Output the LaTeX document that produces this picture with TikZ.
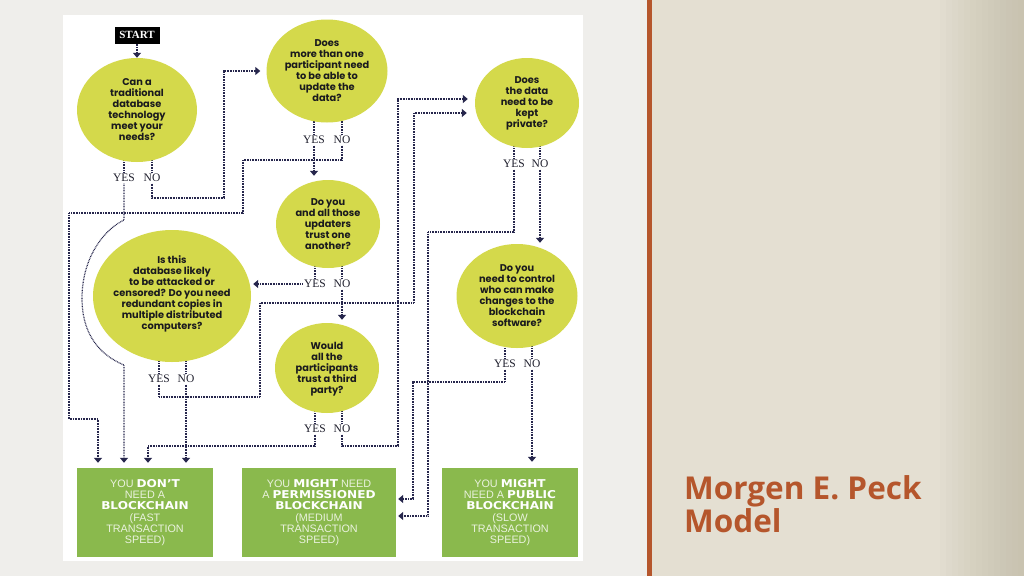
\documentclass[tikz,border=0pt]{standalone}
\usepackage{fontspec}
\setmainfont{Liberation Serif}
\newfontfamily\qfont{Poppins}
\newfontfamily\boldbox{DejaVu Sans}[FakeStretch=1.12]
\newfontfamily\lightbox{Liberation Sans}
\newfontfamily\titlefont{Open Sans}
\usetikzlibrary{shapes.geometric,arrows.meta}
\pgfdeclarelayer{bg}
\pgfdeclarelayer{wires}
\pgfsetlayers{bg,wires,main}
\definecolor{pagegrey}{HTML}{EFEEEB}
\definecolor{rust}{HTML}{B5562C}
\definecolor{beige}{HTML}{E4DFD2}
\definecolor{beigedk}{HTML}{B9B29A}
\definecolor{qyellow}{HTML}{D4D94B}
\definecolor{qtxt}{HTML}{1A1A1E}
\definecolor{rgreen}{HTML}{8AB94D}
\definecolor{lighttxt}{HTML}{EAF2DE}
\definecolor{navy}{HTML}{26264C}
\definecolor{labtxt}{HTML}{1E1E2C}
\newcommand\rbold[1]{{\boldbox\bfseries\fontsize{10.8}{11}\selectfont\color{white}#1}}
\tikzset{
  qshape/.style={ellipse, fill=qyellow, inner sep=0pt},
  qtext/.style={align=center, font=\qfont\bfseries\fontsize{9.8}{11}\selectfont, text=qtxt, inner sep=0pt},
  ans/.style={font=\fontsize{11.5}{11.5}\selectfont, text=labtxt, inner sep=1.5pt},
  res/.style={fill=rgreen, inner sep=0pt, align=center, text=lighttxt, font=\lightbox\fontsize{10.8}{11.2}\selectfont},
  dl/.style={draw=navy, line width=1.2pt, dash pattern=on 0.8pt off 0.8pt},
  arr/.style={dl, -{Triangle[width=8pt,length=5pt]}},
  startbox/.style={fill=black, text=white, font=\bfseries\fontsize{11}{11}\selectfont, minimum width=45pt, minimum height=17pt, inner sep=0pt}
}
\begin{document}
\begin{tikzpicture}[x=1pt,y=-1pt]
\useasboundingbox (0,0) rectangle (1024,576);
\begin{pgfonlayer}{bg}
\fill[pagegrey] (0,0) rectangle (648,576);
\fill[white] (63,15) rectangle (583,561);
\fill[beige] (651,0) rectangle (1024,576);
\foreach \i in {1,...,14}
  \fill[beigedk, opacity=0.05] ({1024-6*\i},0) rectangle (1024,576);
\fill[rust] (647,0) rectangle (651.5,576);
\end{pgfonlayer}

% title
\node[anchor=base west, align=left, inner sep=0pt, text=rust,
      font=\titlefont\bfseries\fontsize{31.5}{31}\selectfont] (title) at (684,532) {Morgen E. Peck\\Model};

% start
\node[startbox] (start) at (137,35) {START};

% questions
\node[qshape, minimum width=120pt, minimum height=104pt] (c1) at (137,110) {};
\node[qtext] (c1t) at (137,110) {Can a\\traditional\\database\\technology\\meet your\\needs?};
\node[qshape, minimum width=121pt, minimum height=103pt] (c2) at (327,71) {};
\node[qtext] (c2t) at (327,71) {Does\\more than one\\participant need\\to be able to\\update the\\data?};
\node[qshape, minimum width=104pt, minimum height=88pt] (c3) at (328,224) {};
\node[qtext] (c3t) at (328,224) {Do you\\and all those\\updaters\\trust one\\another?};
\node[qshape, minimum width=158pt, minimum height=132pt] (c4) at (172,296) {};
\node[qtext] (c4t) at (172,294) {Is this\\database likely\\to be attacked or\\censored? Do you need\\redundant copies in\\multiple distributed\\computers?};
\node[qshape, minimum width=104pt, minimum height=90pt] (c5) at (327,368) {};
\node[qtext] (c5t) at (327,369) {Would\\all the\\participants\\trust a third\\party?};
\node[qshape, minimum width=104pt, minimum height=90pt] (c6) at (527,103) {};
\node[qtext] (c6t) at (527,103) {Does\\the data\\need to be\\kept\\private?};
\node[qshape, minimum width=121pt, minimum height=104pt] (c7) at (517,296) {};
\node[qtext] (c7t) at (517,296) {Do you\\need to control\\who can make\\changes to the\\blockchain\\software?};

% answers
\node[ans] (c1y) at (124,178) {YES};
\node[ans] (c1n) at (152,178) {NO};
\node[ans] (c2y) at (314,140) {YES};
\node[ans] (c2n) at (342,140) {NO};
\node[ans] (c3y) at (315,284) {YES};
\node[ans] (c3n) at (342,284) {NO};
\node[ans] (c4y) at (159,379) {YES};
\node[ans] (c4n) at (186,379) {NO};
\node[ans] (c5y) at (315,429) {YES};
\node[ans] (c5n) at (342,429) {NO};
\node[ans] (c6y) at (514,164) {YES};
\node[ans] (c6n) at (540,164) {NO};
\node[ans] (c7y) at (505,364) {YES};
\node[ans] (c7n) at (532,364) {NO};

% results
\node[res, minimum width=136pt, minimum height=89pt] (b1) at (145,512.5)
  {YOU \rbold{DON’T}\\NEED A\\\rbold{BLOCKCHAIN}\\(FAST\\TRANSACTION\\SPEED)};
\node[res, minimum width=154pt, minimum height=89pt] (b2) at (319,512.5)
  {YOU \rbold{MIGHT} NEED\\A \rbold{PERMISSIONED}\\\rbold{BLOCKCHAIN}\\(MEDIUM\\TRANSACTION\\SPEED)};
\node[res, minimum width=136pt, minimum height=89pt] (b3) at (510,512.5)
  {YOU \rbold{MIGHT}\\NEED A \rbold{PUBLIC}\\\rbold{BLOCKCHAIN}\\(SLOW\\TRANSACTION\\SPEED)};

\begin{pgfonlayer}{wires}
% stubs from questions to answers
\foreach \q/\a in {c1/c1y,c1/c1n,c2/c2y,c2/c2n,c3/c3y,c3/c3n,c4/c4y,c4/c4n,c5/c5y,c5/c5n,c6/c6y,c6/c6n,c7/c7y,c7/c7n}
  \draw[dl] (\a.north) -- (\a.north |- \q.center);
% start
\draw[arr] (start.south) -- (c1.north);
% C1
\draw[arr, shorten >=5pt] (c1y.south) -- (124,220)
  .. controls (100,232) and (82,262) .. (82,298)
  .. controls (82,335) and (100,355) .. (124,365) -- ([xshift=-21pt]b1.north);
\draw[arr, shorten >=6pt] (c1n.south) |- (224,198) |- (c2.west);
% C2
\draw[arr, shorten >=4pt] (c2y.south) -- (c2y.south |- c3.north);
\draw[arr, shorten >=5pt] (c2n.south) |- (243,160) |- (69,213) |- (98,419) -- ([xshift=-47pt]b1.north);
% C3
\draw[arr, shorten >=2pt] (c3y.west) -- (c3y.west -| c4.east);
\draw[arr, shorten >=3pt] (c3n.south) -- (c3n.south |- c5.north);
% C4
\draw[arr, shorten >=8pt] (c4y.south) |- (260,397) |- (414,303) |- ([yshift=-10pt]c6.west);
\draw[arr, shorten >=5pt] (c4n.south) -- ([xshift=41pt]b1.north);
% C5
\draw[arr, shorten >=5pt] (c5y.south) |- (148,446) -- ([xshift=3pt]b1.north);
\draw[arr, shorten >=7pt] (c5n.south) |- (398,446) |- ([yshift=4pt]c6.west);
% C6
\draw[arr, shorten >=2pt] (c6y.south) |- (428,232) |- ([yshift=-3.5pt]b2.east);
\draw[arr, shorten >=1pt] (c6n.south) -- (c6n.south |- c7.north);
% C7
\draw[arr, shorten >=2pt] (c7y.south) |- (413,382) |- ([yshift=13.5pt]b2.east);
\draw[arr, shorten >=6pt] (c7n.south) -- (c7n.south |- b3.north);
\end{pgfonlayer}
\end{tikzpicture}
\end{document}
